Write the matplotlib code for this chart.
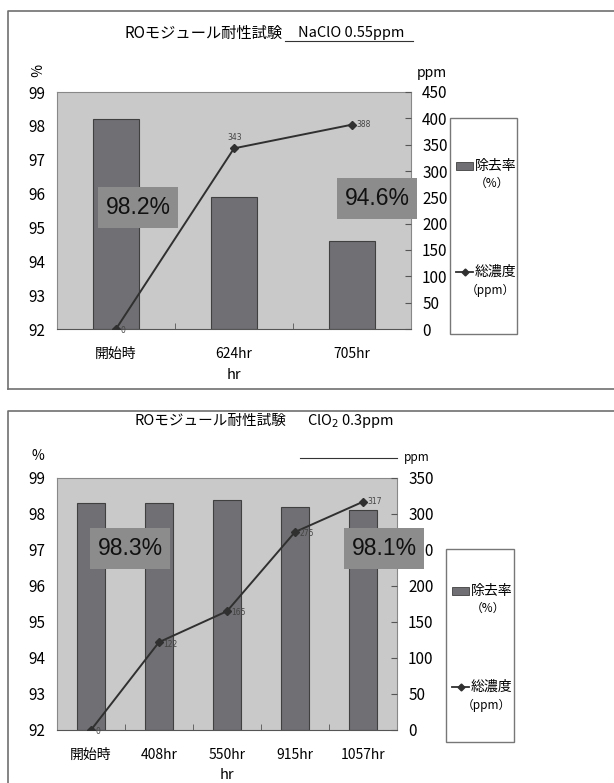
import matplotlib
matplotlib.use("Agg")
import matplotlib.pyplot as plt
from matplotlib.patches import Rectangle
from matplotlib.lines import Line2D
from matplotlib import font_manager
import numpy as np

plt.rcParams['font.family'] = ['Noto Sans CJK JP', 'DejaVu Sans']

# ---- data ----
top_categories = ["開始時", "624hr", "705hr"]
top_removal = [98.2, 95.9, 94.6]
top_conc = [0, 343, 388]
top_title_main = "ROモジュール耐性試験"
top_title_sub = "NaClO 0.55ppm"
top_boxes = ["98.2%", "94.6%"]
top_ppm_ticks = [0, 50, 100, 150, 200, 250, 300, 350, 400, 450]

bot_categories = ["開始時", "408hr", "550hr", "915hr", "1057hr"]
bot_removal = [98.3, 98.3, 98.4, 98.2, 98.1]
bot_conc = [0, 122, 165, 275, 317]
bot_title_main = "ROモジュール耐性試験"
bot_title_sub = r"ClO$_2$ 0.3ppm"
bot_boxes = ["98.3%", "98.1%"]
bot_ppm_ticks = [0, 50, 100, 150, 200, 250, 300, 350]

pct_ticks = [92, 93, 94, 95, 96, 97, 98, 99]
legend_bar = ["除去率", "（%）"]
legend_line = ["総濃度", "（ppm）"]
xlabel = "hr"

W, H = 614, 783
fig = plt.figure(figsize=(W / 100, H / 100), dpi=100)

names = {f.name for f in font_manager.fontManager.ttflist}
BOXFONT = ['Liberation Sans Narrow'] if 'Liberation Sans Narrow' in names else ['Liberation Sans']
BOXSIZE = 17 if 'Liberation Sans Narrow' in names else 16.5

def rect(x0, y0, x1, y1):
    return [x0 / W, 1 - y1 / H, (x1 - x0) / W, (y1 - y0) / H]

def fx(x):
    return x / W

def fy(y):
    return 1 - y / H

BG = "#c9c9c9"
BAR = "#707074"
BOXC = "#8c8c8c"
LINEC = "#303030"
FRAME = "#707070"

def panel(ax_rect, cats, removal, conc, ppm_ticks, label_offsets, bar_w):
    ax = fig.add_axes(rect(*ax_rect))
    ax.set_facecolor(BG)
    x = np.arange(len(cats))
    ax.bar(x, [v - 92 for v in removal], bottom=92, width=bar_w, color=BAR,
           edgecolor="#404040", linewidth=0.8, zorder=2)
    ax.set_xlim(-0.5, len(cats) - 0.5)
    ax.set_ylim(92, 99)
    ax.set_yticks(pct_ticks)
    ax.set_xticks(x)
    ax.set_xticklabels(cats)
    ax.set_xticks(np.arange(len(cats) + 1) - 0.5, minor=True)
    ax.tick_params(axis='x', which='major', length=0, pad=13, labelsize=10)
    ax.tick_params(axis='x', which='minor', direction='in', length=4, color="#555555")
    ax.tick_params(axis='y', length=0, pad=8.5, labelsize=11)
    for s in ax.spines.values():
        s.set_color("#888888")
        s.set_linewidth(0.8)
    ax.spines['bottom'].set_color("#555555")
    ax2 = ax.twinx()
    ax2.set_ylim(0, ppm_ticks[-1])
    ax2.set_yticks(ppm_ticks)
    ax2.tick_params(axis='y', direction='in', length=4, pad=8, labelsize=11, color="#555555")
    for s in ax2.spines.values():
        s.set_visible(False)
    ax2.plot(x, conc, color=LINEC, lw=1.4, marker='D', markersize=4.5,
             markerfacecolor=LINEC, markeredgecolor=LINEC, zorder=3)
    for xi, ci, off in zip(x, conc, label_offsets):
        ax2.annotate(str(ci), (xi, ci), xytext=off, textcoords='offset points',
                     fontsize=5.5, color="#444444", ha='left', va='center',
                     family=['DejaVu Sans'])
    return ax, ax2

def gray_box(x0, y0, x1, y1, text):
    r = Rectangle((fx(x0), fy(y1)), (x1 - x0) / W, (y1 - y0) / H,
                  transform=fig.transFigure, facecolor=BOXC, edgecolor="none", zorder=5)
    fig.add_artist(r)
    fig.text(fx((x0 + x1) / 2), fy((y0 + y1) / 2), text, ha='center', va='center',
             fontsize=BOXSIZE, color="#111111", family=BOXFONT, zorder=6)

def legend_box(x0, y0, x1, y1, patch_y, line_y):
    fig.add_artist(Rectangle((fx(x0), fy(y1)), (x1 - x0) / W, (y1 - y0) / H,
                             transform=fig.transFigure, facecolor="white",
                             edgecolor="#777777", lw=1.0, zorder=4))
    fig.add_artist(Rectangle((fx(x0 + 6), fy(patch_y + 4)), 17 / W, 8 / H,
                             transform=fig.transFigure, facecolor=BAR,
                             edgecolor="#404040", lw=0.6, zorder=5))
    fig.text(fx(x0 + 25), fy(patch_y), legend_bar[0], ha='left', va='center', fontsize=10, zorder=6)
    fig.text(fx(x0 + 42), fy(patch_y + 17), legend_bar[1], ha='center', va='center', fontsize=8.5, zorder=6)
    fig.add_artist(Line2D([fx(x0 + 6), fx(x0 + 23)], [fy(line_y), fy(line_y)],
                          transform=fig.transFigure, color=LINEC, lw=1.3, zorder=5))
    fig.add_artist(Line2D([fx(x0 + 14.5)], [fy(line_y)], transform=fig.transFigure,
                          color=LINEC, marker='D', markersize=3.5, lw=0, zorder=6))
    fig.text(fx(x0 + 25), fy(line_y), legend_line[0], ha='left', va='center', fontsize=10, zorder=6)
    fig.text(fx(x0 + 40), fy(line_y + 18), legend_line[1], ha='center', va='center', fontsize=8.5, zorder=6)

# ---- outer frames ----
fig.add_artist(Line2D([fx(8), fx(8), fx(616)], [fy(389), fy(11), fy(11)],
                      transform=fig.transFigure, color=FRAME, lw=1.2))
fig.add_artist(Line2D([fx(8), fx(616)], [fy(389), fy(389)],
                      transform=fig.transFigure, color=FRAME, lw=1.2))
fig.add_artist(Line2D([fx(8), fx(8), fx(616)], [fy(785), fy(411), fy(411)],
                      transform=fig.transFigure, color=FRAME, lw=1.2))

# ---- top panel ----
panel((57, 92, 411, 329), top_categories, top_removal, top_conc, top_ppm_ticks,
      [(3, -1), (-5, 8), (3, 0)], 0.39)
fig.text(fx(204), fy(33), top_title_main, ha='center', va='center', fontsize=11)
fig.text(fx(351), fy(33), top_title_sub, ha='center', va='center', fontsize=10.5)
fig.add_artist(Line2D([fx(285), fx(413)], [fy(41), fy(41)], transform=fig.transFigure,
                      color="#333333", lw=0.8))
fig.text(fx(34), fy(70), "%", ha='center', va='center', fontsize=10, rotation=-90)
fig.text(fx(432), fy(73), "ppm", ha='center', va='center', fontsize=10)
fig.text(fx(234), fy(375), xlabel, ha='center', va='center', fontsize=10.5)
gray_box(98, 187, 178, 228, top_boxes[0])
gray_box(337, 178, 417, 219, top_boxes[1])
legend_box(450, 118, 517, 334, 166, 272)

# ---- bottom panel ----
panel((57, 478, 397, 730), bot_categories, bot_removal, bot_conc, bot_ppm_ticks,
      [(3, -1), (3, -2), (3, -1), (3, -1), (3, 0)], 0.40)
fig.text(fx(210), fy(421), bot_title_main, ha='center', va='center', fontsize=10.5)
fig.text(fx(351), fy(421), bot_title_sub, ha='center', va='center', fontsize=10.5)
fig.add_artist(Line2D([fx(300), fx(397)], [fy(458), fy(458)], transform=fig.transFigure,
                      color="#333333", lw=0.8))
fig.text(fx(38), fy(456), "%", ha='center', va='center', fontsize=10)
fig.text(fx(417), fy(457), "ppm", ha='center', va='center', fontsize=8.5)
fig.text(fx(227), fy(775), xlabel, ha='center', va='center', fontsize=10.5)
gray_box(90, 528, 170, 569, bot_boxes[0])
gray_box(344, 528, 424, 569, bot_boxes[1])
legend_box(446, 549, 514, 742, 591, 687)

fig.savefig("out.png", dpi=100)
